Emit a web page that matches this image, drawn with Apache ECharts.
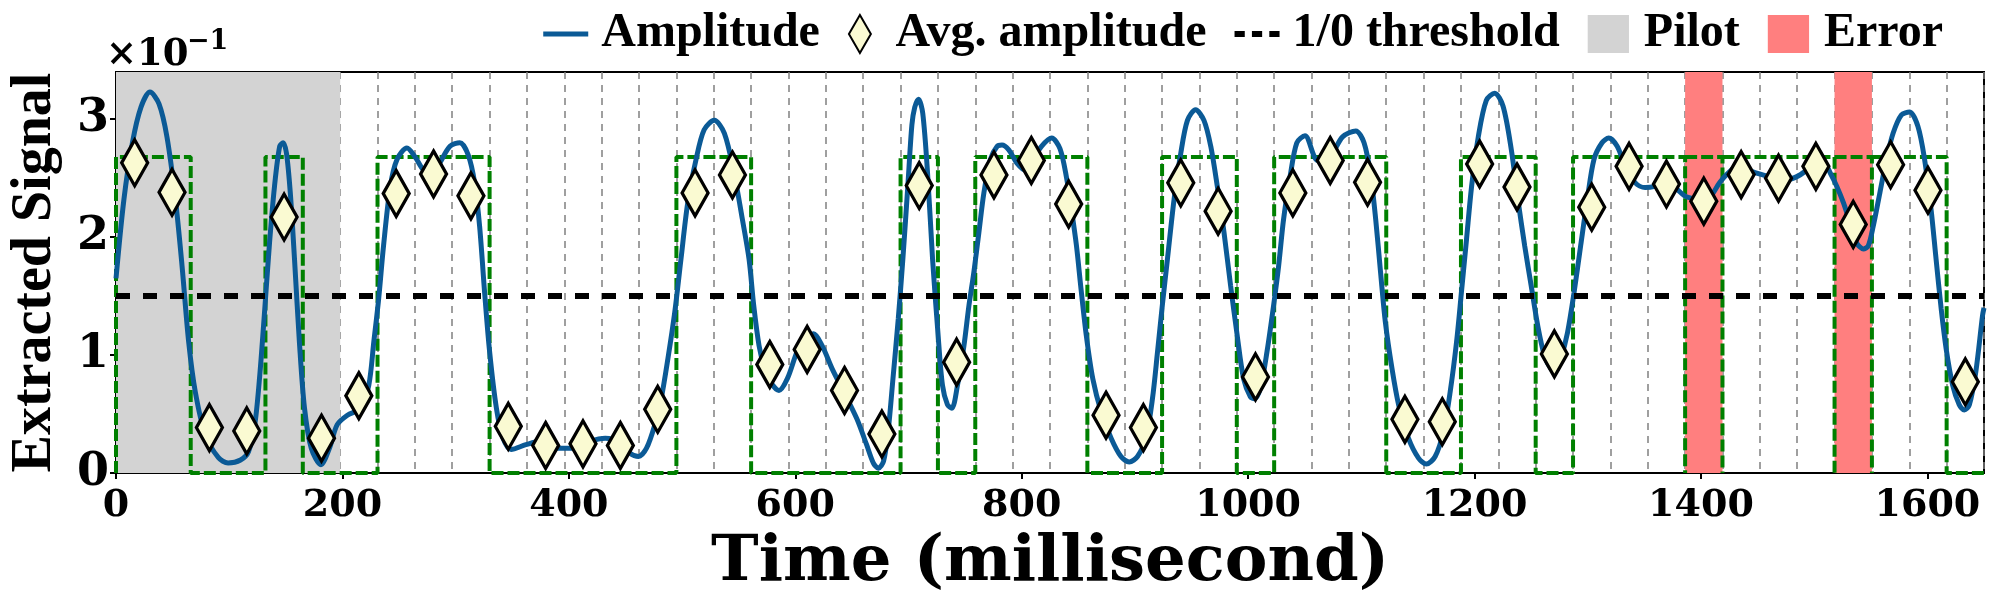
<!DOCTYPE html>
<html>
<head>
<meta charset="utf-8">
<script src="https://cdn.jsdelivr.net/npm/echarts@6/dist/echarts.min.js"></script>
<style>
  html, body { margin: 0; padding: 0; background: #fff; }
  #chart { width: 2000px; height: 600px; }
</style>
</head>
<body>
<div id="chart"></div>
<script>
// ---- data ----
const symbolMs = 33;          // one symbol slot
const xMax = 1650;
const xTicks = [0, 200, 400, 600, 800, 1000, 1200, 1400, 1600];
const yTicks = [0, 1, 2, 3];
const threshold = 1.5;
const bitLevel = 2.68;
const pilotSpan = [0, 198];
const errorSymbols = [42, 46];

// decoded bit per symbol (green boxes)
const bits = [1, 1, 0, 0, 1, 0, 0, 1, 1, 1,
              0, 0, 0, 0, 0, 1, 1, 0, 0, 0,
              0, 1, 0, 1, 1, 1, 0, 0, 1, 1,
              0, 1, 1, 1, 0, 0, 1, 1, 0, 1,
              1, 1, 1, 1, 1, 1, 1, 1, 1, 0];

// average amplitude per symbol (diamonds)
const avgAmp = [2.63, 2.38, 0.385, 0.357, 2.17, 0.295, 0.655, 2.37, 2.535, 2.35,
                0.396, 0.233, 0.247, 0.233, 0.54, 2.375, 2.527, 0.92, 1.048, 0.70,
                0.33, 2.437, 0.94, 2.527, 2.65, 2.28, 0.49, 0.385, 2.46, 2.22,
                0.815, 2.375, 2.65, 2.465, 0.455, 0.435, 2.62, 2.425, 1.01, 2.254,
                2.60, 2.45, 2.305, 2.53, 2.50, 2.60, 2.108, 2.614, 2.397, 0.773];

// extracted signal [ms, value x1e-1]
const amplitude = [
  [0, 1.65], [7, 2.32], [14.5, 2.8], [22, 3.1], [30, 3.23], [38, 3.13], [45, 2.85], [52.5, 2.32],
  [58.3, 1.76], [64.2, 1.11], [70, 0.69], [79, 0.32], [90.5, 0.13], [99, 0.085], [110, 0.11],
  [117, 0.18], [122.6, 0.41], [127, 0.83], [131.4, 1.39], [135.6, 1.95], [140, 2.43], [144.6, 2.77],
  [147.6, 2.8], [150.6, 2.71], [154, 2.37], [157.7, 1.81], [162, 1.11], [166.5, 0.55], [172.5, 0.21],
  [181, 0.07], [188.5, 0.21], [195.4, 0.41], [204.4, 0.49], [216, 0.55], [223.3, 0.745], [227.7, 1.11],
  [232, 1.475], [236.3, 1.925], [242.3, 2.43], [248.3, 2.66], [257, 2.755], [264.2, 2.68], [271.6, 2.57],
  [279, 2.54], [286, 2.63], [295, 2.77], [303.7, 2.8], [311, 2.70], [316.8, 2.46], [321.2, 2.09],
  [325.6, 1.53], [330, 1.03], [336, 0.55], [341.7, 0.30], [349, 0.2], [362, 0.24], [374, 0.267],
  [388.3, 0.21], [403, 0.21], [417.8, 0.267], [432.2, 0.295], [443.7, 0.267], [453.6, 0.17],
  [461.6, 0.14], [468.6, 0.21], [476, 0.41], [481.6, 0.63], [487.5, 0.97], [493.5, 1.36], [499, 1.81],
  [505, 2.29], [512.4, 2.66], [519.5, 2.91], [528.4, 2.99], [537.4, 2.88], [546, 2.54], [553.3, 2.15],
  [559.2, 1.81], [563.3, 1.42], [568, 1.08], [572.3, 0.91], [578.3, 0.77], [585.6, 0.70], [593, 0.80],
  [601.7, 1.03], [609, 1.14], [616.2, 1.18], [623.7, 1.08], [632.5, 0.885], [642.7, 0.69], [654.4, 0.46],
  [663, 0.24], [669, 0.084], [673.4, 0.04], [678, 0.10], [682, 0.35], [686.3, 0.80], [691, 1.31],
  [695, 1.81], [699.4, 2.43], [703, 2.95], [705.5, 3.10], [708.9, 3.17], [712.6, 3.05], [717, 2.52],
  [721.3, 1.81], [726, 1.19], [730, 0.745], [734.4, 0.58], [738.3, 0.55], [743.3, 0.745], [749, 1.08],
  [753.4, 1.42], [757.7, 1.70], [762.2, 2.04], [766.6, 2.375], [772.4, 2.66], [778.3, 2.77],
  [782.6, 2.78], [788.6, 2.74], [795.6, 2.63], [803, 2.57], [810.2, 2.66], [817.5, 2.77], [826.5, 2.84],
  [833.8, 2.75], [839.5, 2.51], [844, 2.23], [848.4, 1.925], [852.4, 1.56], [857, 1.17], [862.8, 0.80],
  [870.2, 0.52], [879, 0.295], [887.7, 0.14], [895, 0.093], [902.3, 0.14], [909.7, 0.295], [915.5, 0.63],
  [920, 1.03], [924.2, 1.42], [928.7, 1.81], [934.6, 2.32], [940.5, 2.71], [946.4, 2.99], [953.6, 3.08],
  [961, 2.99], [967, 2.77], [972.8, 2.43], [978.7, 2.04], [984.5, 1.59], [990.3, 1.17], [996, 0.80],
  [1002, 0.646], [1005.6, 0.63], [1010.8, 0.72], [1016.7, 1.03], [1022.5, 1.42], [1027, 1.76],
  [1031.3, 2.15], [1037.2, 2.52], [1043, 2.80], [1050.2, 2.86], [1059.8, 2.66], [1067.3, 2.64],
  [1074.7, 2.71], [1083.4, 2.85], [1095.1, 2.90], [1102.4, 2.80], [1108.3, 2.52], [1112.7, 2.15],
  [1117, 1.70], [1121.2, 1.28], [1127.1, 0.885], [1133, 0.576], [1141.6, 0.295], [1150.5, 0.126],
  [1157.5, 0.076], [1165.2, 0.14], [1172.5, 0.35], [1178.5, 0.69], [1184.1, 1.11], [1188.4, 1.53],
  [1192.9, 1.98], [1197.4, 2.43], [1203.3, 2.85], [1210.4, 3.16], [1217.8, 3.22], [1225.2, 3.11],
  [1232.5, 2.74], [1238.3, 2.32], [1244.3, 1.925], [1250, 1.59], [1255.8, 1.25], [1261.6, 1.00],
  [1267.5, 0.885], [1271.8, 0.87], [1276.2, 0.97], [1282.1, 1.19], [1287.9, 1.53], [1293.7, 1.925],
  [1299.6, 2.32], [1305.5, 2.66], [1312.6, 2.80], [1318.5, 2.84], [1326, 2.77], [1333.1, 2.60],
  [1342, 2.46], [1350.6, 2.42], [1359.4, 2.43], [1368.2, 2.46], [1376.9, 2.42], [1385.6, 2.35],
  [1394.4, 2.32], [1401.8, 2.29], [1409, 2.35], [1416.4, 2.46], [1423.7, 2.54], [1432.5, 2.60],
  [1441.3, 2.57], [1450, 2.54], [1458.8, 2.515], [1467.6, 2.49], [1476.4, 2.49], [1485.1, 2.515],
  [1493.9, 2.57], [1502.8, 2.63], [1508.5, 2.63], [1514.4, 2.54], [1520, 2.43], [1525.9, 2.29],
  [1531.7, 2.12], [1537.6, 1.95], [1543.4, 1.90], [1547.7, 1.925], [1552.1, 2.09], [1558, 2.375],
  [1563.9, 2.66], [1569.7, 2.88], [1577, 3.035], [1584.2, 3.06], [1591.6, 2.94], [1597.5, 2.66],
  [1603.3, 2.23], [1607.7, 1.81], [1612.2, 1.39], [1616.6, 1.05], [1622.3, 0.745], [1628.1, 0.58],
  [1632.6, 0.534], [1637, 0.576], [1642.8, 0.86], [1648.7, 1.335], [1650, 1.40]
];

// ---- chart ----
const SERIF = '"DejaVu Serif", serif';
const NARROW = '"Liberation Serif", serif';
const blue = '#0b5a96';

// green step outline, with full-height edges around error symbols
function bitOutline() {
  const pts = [[0, 0]];
  let prev = 0;
  bits.forEach(function (b, k) {
    const x = k * symbolMs;
    const y = b * bitLevel;
    const edge = errorSymbols.indexOf(k) >= 0 || errorSymbols.indexOf(k - 1) >= 0;
    if (y !== prev) {
      pts.push([x, prev], [x, y]);
    } else if (edge) {
      // drop to the floor, then restart the top edge
      pts.push([x, prev], [x, 0], [x, '-'], [x, y]);
    }
    prev = y;
  });
  pts.push([xMax, prev]);
  return pts;
}

const chart = echarts.init(document.getElementById('chart'));

const option = {
  animation: false,
  backgroundColor: '#fff',
  grid: { left: 102, right: 16, top: 72, bottom: 125, show: true, borderColor: '#000', borderWidth: 2 },
  legend: {
    top: 5,
    right: 52,
    itemWidth: 45,
    itemHeight: 38,
    itemGap: 28,
    textStyle: { fontFamily: NARROW, fontWeight: 'bold', fontSize: 48, color: '#000', padding: [0, 0, 0, 8] },
    data: [
      { name: 'Amplitude', icon: 'path://M0,0H45V5H0Z' },
      { name: 'Avg. amplitude', icon: 'path://M13,0L26,22.5L13,45L0,22.5Z' },
      { name: '1/0 threshold', icon: 'path://M0,0H10V6H0Z M17,0H27V6H17Z M34,0H44V6H34Z' },
      { name: 'Pilot', icon: 'path://M0,0H38V35H0Z' },
      { name: 'Error', icon: 'path://M0,0H38V35H0Z' }
    ]
  },
  graphic: [
    { type: 'text', x: 106, y: 55, style: { text: '×10', font: 'bold 37px ' + SERIF, fill: '#000', verticalAlign: 'middle' } },
    { type: 'text', x: 187, y: 42, style: { text: '−1', font: 'bold 27px ' + SERIF, fill: '#000', verticalAlign: 'middle' } }
  ],
  xAxis: [
    {
      type: 'value', min: 0, max: xMax, interval: 200,
      name: 'Time (millisecond)', nameLocation: 'middle', nameGap: 58,
      nameTextStyle: { fontFamily: SERIF, fontWeight: 'bold', fontSize: 64, color: '#000' },
      axisLine: { lineStyle: { color: '#000', width: 2 } },
      axisTick: { length: 6, lineStyle: { color: '#000', width: 2 }, customValues: xTicks },
      axisLabel: {
        margin: 14, fontFamily: SERIF, fontWeight: 'bold', fontSize: 38, color: '#000',
        customValues: xTicks, formatter: function (v) { return String(v); }
      },
      splitLine: { show: false }
    },
    {
      // symbol slot boundaries
      type: 'value', min: 0, max: xMax, interval: symbolMs, position: 'top',
      axisLine: { show: false }, axisTick: { show: false }, axisLabel: { show: false },
      splitLine: { show: true, lineStyle: { color: '#808080', width: 1.5, type: [7, 6] } }
    }
  ],
  yAxis: {
    type: 'value', min: 0, max: 3.4, interval: 1,
    name: 'Extracted Signal', nameLocation: 'middle', nameGap: 52, nameRotate: 90,
    nameTextStyle: { fontFamily: NARROW, fontWeight: 'bold', fontSize: 56, color: '#000' },
    axisLine: { show: true, lineStyle: { color: '#000', width: 2 } },
    axisTick: { show: true, length: 6, lineStyle: { color: '#000', width: 2 }, customValues: yTicks },
    axisLabel: { margin: 7, fontFamily: SERIF, fontWeight: 'bold', fontSize: 46, color: '#000', customValues: yTicks },
    splitLine: { show: false }
  },
  series: [
    {
      name: 'Pilot', type: 'line', data: [], z: -1, color: '#d3d3d3',
      markArea: { silent: true, itemStyle: { color: '#d3d3d3' },
        data: [[{ xAxis: pilotSpan[0] }, { xAxis: pilotSpan[1] }]] }
    },
    {
      name: 'Error', type: 'line', data: [], z: 1, color: '#ff7f7f',
      markArea: { silent: true, itemStyle: { color: '#ff7f7f' },
        data: errorSymbols.map(function (k) { return [{ xAxis: k * symbolMs }, { xAxis: (k + 1) * symbolMs }]; }) }
    },
    {
      name: 'bits', type: 'line', data: bitOutline(), z: 3, symbol: 'none', connectNulls: false,
      lineStyle: { color: '#008000', width: 4, type: [12, 4] }
    },
    {
      name: 'Amplitude', type: 'line', data: amplitude, z: 4, symbol: 'none', smooth: 0.3,
      color: blue, lineStyle: { color: blue, width: 5 }
    },
    {
      name: '1/0 threshold', type: 'line', data: [[0, threshold], [xMax, threshold]], z: 5, symbol: 'none',
      color: '#000', lineStyle: { color: '#000', width: 6, type: [14, 13] }
    },
    {
      name: 'Avg. amplitude', type: 'scatter', z: 6,
      data: avgAmp.map(function (v, k) { return [(k + 0.5) * symbolMs, v]; }),
      symbol: 'diamond', symbolSize: [26, 46],
      itemStyle: { color: '#fafad2', borderColor: '#000', borderWidth: 3.5, opacity: 1 }
    }
  ]
};

chart.setOption(option);
</script>
</body>
</html>
